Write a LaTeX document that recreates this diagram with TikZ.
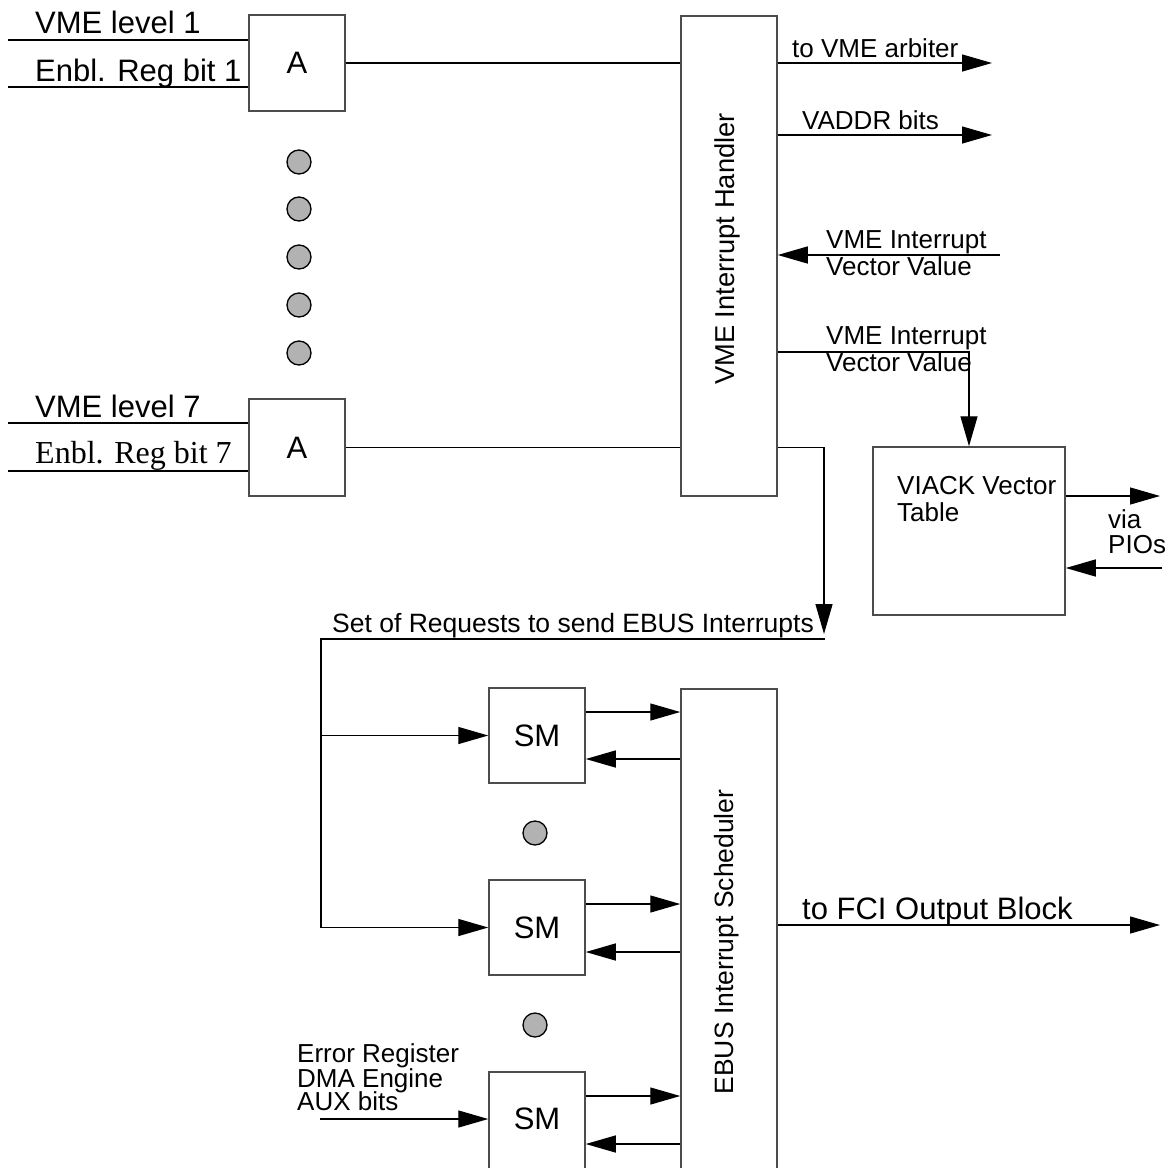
\documentclass[tikz,border=0pt]{standalone}
\usepackage{fontspec}
\setmainfont{Liberation Sans}
\newfontfamily\timesf{Liberation Serif}
\usetikzlibrary{arrows.meta,calc}
\begin{document}
\begin{tikzpicture}[x=1pt,y=-1pt,
  box/.style={draw=black!70, line width=1.5pt, minimum width=96pt, inner sep=0pt, font=\fontsize{31}{31}\selectfont},
  wire/.style={line width=1.3pt},
  arr/.style={line width=1.3pt, -{Triangle[length=30pt,width=17pt]}},
  dot/.style={circle, draw=black, line width=1.3pt, fill=black!30, minimum size=24pt, inner sep=0pt},
  big/.style={font=\fontsize{31}{31}\selectfont, inner sep=0pt, anchor=base west},
  lbl/.style={font=\fontsize{26}{26}\selectfont, inner sep=0pt, anchor=base west},
  vlbl/.style={font=\fontsize{26.5}{26.5}\selectfont, inner sep=0pt, rotate=90},
]
\useasboundingbox (0,0) rectangle (1174,1167);
\clip (0,0) rectangle (1174,1167);

% boxes
\node[box, minimum height=96pt] (A1) at (297,63) {A};
\node[box, minimum height=97pt] (A7) at (297,447.5) {A};
\node[box, minimum height=480pt] (H) at (729,256) {};
\node[vlbl, font=\fontsize{27.3}{27.3}\selectfont] (Hl) at (727,249) {VME Interrupt Handler};
\node[box, minimum width=192pt, minimum height=168pt] (V) at (969,531) {};
\node[box, minimum height=95pt] (SM1) at (537,735.5) {SM};
\node[box, minimum height=95pt] (SM2) at (537,927.5) {SM};
\node[box, minimum height=120pt, anchor=north] (SM3) at (537,1071) {};
\node[font=\fontsize{31}{31}\selectfont, inner sep=0pt] (SM3l) at (537,1119) {SM};
\node[box, minimum height=500pt, anchor=north] (S) at (729,688) {};
\node[vlbl] (Sl) at (727,942) {EBUS Interrupt Scheduler};

% dots
\foreach \y [count=\i] in {162,209,257,305,353} \node[dot] (d\i) at (299,\y) {};
\node[dot] (d6) at (535,833) {};
\node[dot] (d7) at (535,1025) {};

% labels
\node[big] (t1) at (35,33) {VME level 1};
\node[big] (t2) at (35,81) {Enbl. Reg bit 1};
\node[big] (t3) at (35,417) {VME level 7};
\node[big, font=\timesf\fontsize{32}{32}\selectfont] (t4) at (35,463) {Enbl. Reg bit 7};
\node[lbl] (t5) at (792,57) {to VME arbiter};
\node[lbl] (t6) at (802,129) {VADDR bits};
\node[lbl] (t7) at (826,248) {VME Interrupt};
\node[lbl] (t8) at (826,275) {Vector Value};
\node[lbl] (t9) at (826,344) {VME Interrupt};
\node[lbl] (t10) at (826,371) {Vector Value};
\node[lbl] (t11) at (897,494) {VIACK Vector};
\node[lbl] (t12) at (897,521) {Table};
\node[lbl] (t13) at (1108,528) {via};
\node[lbl] (t14) at (1108,553) {PIOs};
\node[lbl, font=\fontsize{26.5}{26.5}\selectfont] (t15) at (332,632) {Set of Requests to send EBUS Interrupts};
\node[lbl] (t16) at (297,1062) {Error Register};
\node[lbl] (t17) at (297,1087) {DMA Engine};
\node[lbl] (t18) at (297,1110) {AUX bits};
\node[big] (t19) at (802,919) {to FCI Output Block};

% coordinates
\coordinate (i1a) at (8,40);
\coordinate (i1b) at (8,87);
\coordinate (i7a) at (8,423);
\coordinate (i7b) at (8,471);
\coordinate (arb) at (992,63);
\coordinate (vad) at (992,135);
\coordinate (vin) at (1000,255);
\coordinate (vout) at (969,352);
\coordinate (pout) at (1160,496);
\coordinate (pin) at (1162,568);
\coordinate (reqtip) at (824,634);
\coordinate (reqc) at (825,639);
\coordinate (busc) at (321,639);
\coordinate (o1) at (0,712);
\coordinate (b1) at (0,759);
\coordinate (o2) at (0,904);
\coordinate (b2) at (0,952);
\coordinate (o3) at (0,1096);
\coordinate (b3) at (0,1144);
\coordinate (err) at (320,1119);
\coordinate (fci) at (1160,925);

% connectors
\draw[wire] (i1a) -- (i1a -| A1.west);
\draw[wire] (i1b) -- (i1b -| A1.west);
\draw[wire] (i7a) -- (i7a -| A7.west);
\draw[wire] (i7b) -- (i7b -| A7.west);
\draw[wire] (A1.east) -- (A1.east -| H.west);
\draw[wire] (A7.east) -- (A7.east -| H.west);
\draw[arr] (arb -| H.east) -- (arb);
\draw[arr] (vad -| H.east) -- (vad);
\draw[arr] (vin) -- (vin -| H.east);
\draw[arr] (vout -| H.east) -| (V.north);
\draw[arr] (pout -| V.east) -- (pout);
\draw[arr] (pin) -- (pin -| V.east);
\draw[arr] (A7.east -| H.east) -| (reqtip);
\draw[arr] (reqc) -- (busc) |- (SM2.west);
\draw[arr] (busc |- SM1.west) -- (SM1.west);
\draw[arr] (SM1.east |- o1) -- (S.west |- o1);
\draw[arr] (S.west |- b1) -- (SM1.east |- b1);
\draw[arr] (SM2.east |- o2) -- (S.west |- o2);
\draw[arr] (S.west |- b2) -- (SM2.east |- b2);
\draw[arr] (SM3.east |- o3) -- (S.west |- o3);
\draw[arr] (S.west |- b3) -- (SM3.east |- b3);
\draw[arr] (err) -- (err -| SM3.west);
\draw[arr] (fci -| S.east) -- (fci);
\end{tikzpicture}
\end{document}
